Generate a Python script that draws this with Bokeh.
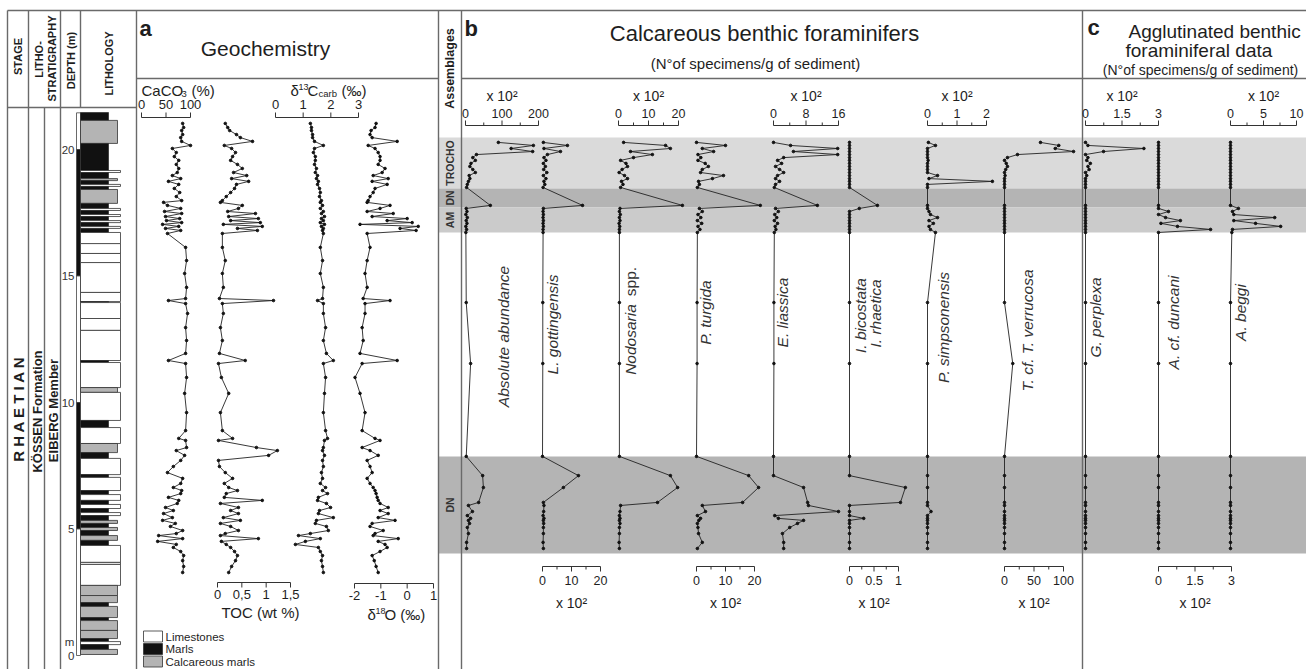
import math
from bokeh.plotting import figure
from bokeh.models import Range1d, ColumnDataSource
from bokeh.embed import file_html
from bokeh.resources import INLINE
from bokeh.core.properties import value

# ============================ DATA ============================
# --- Geochemistry (depth in m) ---
geo_depth = [21.03, 20.87, 20.75, 20.59, 20.47, 20.32, 20.16, 20.04, 19.88, 19.72,
             19.57, 19.41, 19.25, 19.09, 18.97, 18.85, 18.74, 18.62, 18.46, 18.30,
             18.14, 17.98, 17.91, 17.79, 17.67, 17.55, 17.47, 17.35, 17.27, 17.19,
             17.11, 17.04, 16.96, 16.88, 16.80, 16.68,
             16.13, 15.61, 15.10, 14.55, 14.11, 14.03, 13.91, 13.52, 12.96, 12.45,
             11.94, 11.66, 11.54, 10.99, 10.36, 9.60, 8.89, 8.58, 8.50,
             8.22, 8.10, 7.91, 7.71, 7.47, 7.23, 7.00, 6.80, 6.64, 6.52,
             6.40, 6.25, 6.13, 6.01, 5.85, 5.73, 5.61, 5.45, 5.34, 5.22,
             5.10, 4.94, 4.82, 4.74, 4.62, 4.51, 4.39, 4.27, 4.11, 3.95,
             3.75, 3.52, 3.28]
caco3 = [84, 86, 82, 84, 80, 82, 100, 63, 71, 67,
         76, 71, 76, 73, 63, 80, 55, 76, 67, 78,
         71, 82, 45, 53, 80, 47, 82, 49, 78, 51,
         82, 43, 76, 49, 80, 53,
         90, 92, 88, 92, 90, 55, 90, 94, 90, 92,
         90, 55, 90, 92, 88, 92, 90, 76, 90,
         92, 71, 88, 80, 65, 53, 84, 80, 65, 82,
         80, 55, 76, 73, 49, 65, 45, 63, 43, 69,
         59, 84, 71, 35, 84, 33, 71, 65, 80, 86,
         84, 86, 84]
toc = [0.16, 0.21, 0.25, 0.39, 0.47, 0.72, 0.14, 0.29, 0.37, 0.31,
       0.27, 0.41, 0.51, 0.33, 0.60, 0.29, 0.64, 0.39, 0.35, 0.27,
       0.18, 0.10, 0.06, 0.51, 0.43, 0.21, 0.78, 0.23, 0.84, 0.27,
       0.88, 0.12, 0.92, 0.41, 0.82, 0.10,
       0.10, 0.16, 0.10, 0.12, 0.04, 1.15, 0.10, 0.12, 0.06, 0.10,
       0.04, 0.57, 0.02, 0.08, 0.23, 0.06, 0.10, 0.31, 0.02,
       0.80, 1.23, 1.05, 0.02, 0.04, 0.16, 0.31, 0.14, 0.23, 0.41,
       0.18, 0.14, 0.92, 0.06, 0.43, 0.27, 0.43, 0.12, 0.47, 0.06,
       0.27, 0.43, 0.16, 0.06, 0.84, 0.08, 0.18, 0.27, 0.35, 0.41,
       0.37, 0.29, 0.23]
d13c = [1.26, 1.30, 1.30, 1.34, 1.34, 1.41, 1.73, 1.41, 1.37, 1.44,
        1.44, 1.41, 1.48, 1.44, 1.52, 1.48, 1.55, 1.52, 1.59, 1.62,
        1.59, 1.66, 1.62, 1.70, 1.62, 1.73, 1.66, 1.77, 1.66, 1.73,
        1.62, 1.77, 1.66, 1.73, 1.70, 1.73,
        1.62, 1.70, 1.62, 1.73, 1.70, 1.52, 1.73, 1.73, 1.81, 1.73,
        1.84, 2.09, 1.73, 1.81, 1.77, 1.73, 1.81, 1.88, 1.77,
        1.73, 1.70, 1.77, 1.70, 1.73, 1.66, 1.70, 1.62, 1.81, 1.70,
        1.88, 1.55, 1.52, 1.84, 1.99, 1.59, 1.55, 2.09, 1.48, 1.44,
        1.84, 1.91, 1.26, 0.83, 1.62, 1.08, 0.72, 1.55, 1.62, 1.70,
        1.66, 1.70, 1.73]
d18o = [-1.18, -1.22, -1.37, -1.41, -1.33, -0.38, -1.48, -1.22, -1.10, -1.03,
        -1.03, -1.10, -0.84, -0.95, -1.29, -0.72, -1.33, -0.76, -1.22, -1.29,
        -1.41, -1.48, -1.52, -0.65, -1.03, -1.52, -0.53, -1.33, 0.00, -0.76,
        0.19, -1.79, 0.42, -0.27, 0.34, -1.52,
        -1.41, -1.52, -1.60, -1.52, -1.67, -0.65, -1.60, -1.60, -1.71, -1.67,
        -1.79, -0.38, -1.71, -1.98, -1.79, -1.60, -1.71, -1.22, -1.03,
        -1.71, -1.41, -1.10, -1.52, -1.41, -1.33, -1.52, -1.41, -1.29, -1.22,
        -1.18, -1.14, -1.10, -1.03, -0.72, -1.03, -0.72, -1.10, -0.46, -1.33,
        -1.41, -0.91, -1.22, -1.29, -0.34, -1.10, -0.84, -0.76, -1.03, -1.33,
        -1.25, -1.18, -1.10]

caco3_ticks = [0, 50, 100]
caco3_tick_labels = ["0", "50", "100"]
d13c_ticks = [0, 1, 2, 3]
d13c_tick_labels = ["0", "1", "2", "3"]
toc_ticks = [0, 0.5, 1, 1.5]
toc_tick_labels = ["0", "0,5", "1", "1,5"]
d18o_ticks = [-2, -1, 0, 1]
d18o_tick_labels = ["-2", "-1", "0", "1"]

# --- Benthic foraminifera (N of specimens/g, x 10^2), depth in m ---
foram_depth = [20.28, 20.16, 20.04, 19.92, 19.80, 19.68, 19.57, 19.45, 19.33, 19.21,
               19.09, 18.97, 18.85, 18.74, 18.62, 18.50,
               17.79,
               17.67, 17.55, 17.43, 17.31, 17.19, 17.08, 16.96, 16.84, 16.72,
               13.95, 11.54,
               7.87, 7.11, 6.64, 6.05, 5.93, 5.69, 5.53, 5.42, 5.34, 5.22,
               5.06, 4.82, 4.47, 4.23]
absolute_abundance = [90, 186, 125, 184, 30, 20, 27, 15, 12, 20, 27, 10, 12, 8, 5, 3,
                      68,
                      2, 4, 1, 5, 2, 4, 1, 3, 1,
                      2, 14,
                      2, 47, 49, 36, 8, 19, 5, 14, 8, 11, 5, 8, 3, 3]
l_gottingensis = [0.3, 8.6, 0.5, 6.2, 1.7, 0.5, 1.2, 0.3, 1.0, 0.4, 1.5, 0.3, 1.2, 0.5, 0.8, 0.2,
                  13.8,
                  0.3, 0.2, 0.3, 0.2, 0.3, 0.2, 0.3, 0.2, 0.2,
                  0.1, 0.1,
                  0.0, 12.4, 7.2, 0.3, 0.5, 0.4, 0.2, 0.5, 0.3, 0.4, 0.3, 0.3, 0.2, 0.3]
nodosaria_spp = [1.7, 15.7, 17.3, 4.0, 11.3, 5.0, 0.7, 2.5, 3.0, 1.2, 0.2, 2.0, 3.0, 1.0, 1.5, 0.7,
                 21.3,
                 0.5, 0.3, 0.6, 0.3, 0.5, 0.2, 0.4, 0.3, 0.3,
                 0.3, 0.3,
                 0.3, 17.3, 19.7, 13.0, 0.7, 0.5, 0.3, 0.5, 0.3, 0.5, 0.3, 0.3, 0.2, 0.3]
p_turgida = [0.0, 10.0, 2.0, 5.9, 0.5, 1.5, 0.5, 3.0, 4.1, 2.0, 1.4, 9.3, 5.5, 0.7, 1.0, 0.3,
             22.0,
             1.0, 2.0, 0.5, 1.5, 0.3, 1.8, 0.5, 1.2, 0.3,
             0.2, 0.2,
             0.0, 18.0, 21.4, 15.9, 2.0, 3.1, 0.3, 1.4, 0.8, 0.3, 0.5, 0.7, 2.0, 0.3]
e_liassica = [0.0, 4.2, 15.8, 4.9, 15.8, 2.5, 1.0, 2.0, 0.5, 1.5, 2.5, 1.0, 0.5, 1.5, 0.5, 0.2,
              10.8,
              0.5, 1.2, 0.3, 0.8, 0.2, 1.0, 0.4, 0.6, 0.2,
              0.1, 0.1,
              0.0, 0.0, 7.4, 8.4, 8.6, 16.0, 0.3, 1.2, 7.4, 5.9, 4.0, 2.2, 2.5, 2.5]
i_bicostata_rhaetica = [0, 0, 0, 0, 0, 0, 0, 0, 0, 0, 0, 0, 0, 0, 0, 0,
                        0.57,
                        0.2, 0, 0, 0, 0, 0, 0, 0, 0,
                        0, 0,
                        0, 0, 1.14, 1.04, 0, 0, 0, 0.29, 0, 0, 0, 0, 0, 0]
p_simpsonensis = [0.03, 0.27, 0, 0, 0, 0, 0.02, 0, 0, 0, 0, 0.34, 0.05, 2.2, 0, 0,
                  0,
                  0, 0.05, 0.1, 0.34, 0.05, 0.2, 0.05, 0.1, 0.27,
                  0, 0,
                  0, 0, 0, 0, 0, 0.12, 0, 0, 0, 0, 0, 0, 0, 0]
t_verrucosa = [61, 92, 86, 117, 22, 5, 0, 3, 5, 2, 0, 1, 0, 0, 0, 0,
               0,
               0, 0, 0, 0, 0, 0, 0, 0, 0,
               0, 14,
               0, 0, 0, 0, 0, 0, 0, 0, 0, 0, 0, 0, 0, 0]
g_perplexa = [0, 0.1, 2.4, 0.74, 0, 0.1, 0.05, 0.2, 0.1, 0.15, 0, 0.05, 0, 0, 0, 0,
              0,
              0, 0, 0, 0, 0, 0, 0, 0, 0,
              0, 0,
              0, 0, 0, 0, 0, 0, 0, 0, 0, 0, 0, 0, 0, 0]
a_duncani = [0, 0, 0, 0, 0, 0, 0, 0, 0, 0, 0, 0, 0, 0, 0, 0,
             0,
             0, 0.41, 0, 0.29, 0.9, 0.1, 0.78, 2.14, 0,
             0, 0,
             0, 0, 0, 0, 0, 0, 0, 0, 0, 0, 0, 0, 0, 0]
a_beggi = [0, 0, 0, 0, 0, 0, 0, 0, 0, 0, 0, 0, 0, 0, 0, 0,
           0,
           1.2, 0.3, 0.5, 6.7, 0.5, 3.8, 7.6, 0.3, 0.2,
           0, 0,
           0, 0, 0, 0, 0, 0, 0, 0, 0, 0, 0, 0, 0, 0]

abs_ticks = [0, 50, 100, 150, 200]
abs_tick_labels = ["0", "", "100", "", "200"]
gott_ticks = [0, 5, 10, 15, 20]
gott_tick_labels = ["0", "", "10", "", "20"]
nodo_ticks = [0, 5, 10, 15, 20]
nodo_tick_labels = ["0", "", "10", "", "20"]
turg_ticks = [0, 5, 10, 15, 20]
turg_tick_labels = ["0", "", "10", "", "20"]
lias_ticks = [0, 4, 8, 12, 16]
lias_tick_labels = ["0", "", "8", "", "16"]
bico_ticks = [0, 0.25, 0.5, 0.75, 1]
bico_tick_labels = ["0", "", "0.5", "", "1"]
simp_ticks = [0, 0.5, 1, 1.5, 2]
simp_tick_labels = ["0", "", "1", "", "2"]
verr_ticks = [0, 25, 50, 75, 100]
verr_tick_labels = ["0", "", "50", "", "100"]
perp_ticks = [0, 0.75, 1.5, 2.25, 3]
perp_tick_labels = ["0", "", "1.5", "", "3"]
dunc_ticks = [0, 0.75, 1.5, 2.25, 3]
dunc_tick_labels = ["0", "", "1.5", "", "3"]
begg_ticks = [0, 2.5, 5, 7.5, 10]
begg_tick_labels = ["0", "", "5", "", "10"]

# --- Assemblage zones (m) ---
zone_name = ["TROCHO", "DN", "AM", "DN"]
zone_top = [20.47, 18.46, 17.71, 7.87]
zone_base = [18.46, 17.71, 16.72, 4.03]

# --- Lithology log: bed boundaries (m, top to base) and lithology codes ---
bed_bounds = [21.46, 21.15, 20.24, 19.17, 19.09, 18.85, 18.77, 18.62, 18.54, 18.42,
              17.87, 17.67, 17.59, 17.43, 17.35, 17.19, 17.11, 16.96, 16.88, 16.72,
              16.28, 15.89, 15.53, 14.35, 13.99, 13.95, 13.32, 12.85, 11.66, 11.58,
              10.59, 10.40, 9.29, 9.01, 8.38, 8.02, 7.79, 7.15, 7.04, 6.52,
              6.36, 6.13, 5.97, 5.81, 5.65, 5.53, 5.34, 5.22, 5.06, 4.94,
              4.74, 4.55, 4.35, 3.68, 3.60, 2.77, 2.37, 2.09, 1.94, 1.50,
              1.38, 0.99, 0.67, 0.55, 0.43, 0.24, 0.04]
bed_lith = ["M", "C", "M", "L", "M", "C", "M", "L", "M", "C",
            "M", "L", "M", "L", "M", "L", "M", "L", "M", "L",
            "L", "L", "L", "L", "M", "L", "L", "L", "M", "L",
            "C", "L", "M", "L", "C", "M", "L", "M", "L", "M",
            "L", "M", "L", "M", "L", "M", "C", "M", "C", "M",
            "C", "M", "L", "L", "L", "C", "C", "M", "C", "M",
            "C", "C", "M", "L", "M", "C"]
lith_codes = ["L", "M", "C"]
lith_names = ["Limestones", "Marls", "Calcareous marls"]

depth_ticks = [0, 5, 10, 15, 20]
depth_bar_bounds = [21.45, 20, 15, 10, 5, 0]

# ============================ LAYOUT ============================
W, H = 1306, 669
XL, XR = 0.0, 1306.0          # page-pixel frame of the drawing
YB, YT = 669.0, 0.0
Y_ZERO, PX_M = 655.0, 25.3    # depth scale of the log: 0 m at page y 655, 25.3 px per m

FONT = value("Liberation Sans")
INK = "#1e1e1e"
FRAME = "#6a6a6a"
LITH_FILL = {"L": "#ffffff", "M": "#111111", "C": "#b4b4b4"}
LITH_RIGHT = {"L": 120, "M": 108, "C": 117}
ZONE_FILL = {"TROCHO": "#dadada", "DN": "#b4b4b4", "AM": "#cbcbcb"}

p = figure(width=W, height=H, x_range=Range1d(XL, XR), y_range=Range1d(YB, YT),
           x_axis_location=None, y_axis_location=None, output_backend="svg",
           toolbar_location=None, min_border=0)
p.xgrid.visible = False
p.ygrid.visible = False
p.outline_line_color = None
p.background_fill_color = "white"
p.border_fill_color = "white"

xr = {}


def track(name, v0, x0, v1, x1):
    s = (x1 - x0) / (v1 - v0)
    xr[name] = Range1d(v0 + (XL - x0) / s, v0 + (XR - x0) / s)


# geochemistry tracks (value -> page x)
track("caco3", 0, 141, 100, 190)
track("toc", 0, 217, 1.5, 290)
track("d13c", 0, 275, 3, 358)
track("d18o", -2, 354, 1, 433)

SPECIES = [
    # key, series, ticks, tick labels, axis side, (v0, x0, v1, x1)
    ("abs", absolute_abundance, abs_ticks, abs_tick_labels, "top", (0, 465, 200, 538)),
    ("gott", l_gottingensis, gott_ticks, gott_tick_labels, "bottom", (0, 542, 20, 600)),
    ("nodo", nodosaria_spp, nodo_ticks, nodo_tick_labels, "top", (0, 618, 20, 678)),
    ("turg", p_turgida, turg_ticks, turg_tick_labels, "bottom", (0, 696, 20, 754)),
    ("lias", e_liassica, lias_ticks, lias_tick_labels, "top", (0, 773, 16, 838)),
    ("bico", i_bicostata_rhaetica, bico_ticks, bico_tick_labels, "bottom", (0, 849, 1, 898)),
    ("simp", p_simpsonensis, simp_ticks, simp_tick_labels, "top", (0, 927, 2, 986)),
    ("verr", t_verrucosa, verr_ticks, verr_tick_labels, "bottom", (0, 1004, 100, 1063)),
    ("perp", g_perplexa, perp_ticks, perp_tick_labels, "top", (0, 1085, 3, 1158)),
    ("dunc", a_duncani, dunc_ticks, dunc_tick_labels, "bottom", (0, 1158, 3, 1231)),
    ("begg", a_beggi, begg_ticks, begg_tick_labels, "top", (0, 1230, 10, 1296)),
]
for key, _s, _t, _l, _side, a in SPECIES:
    track(key, *a)

p.extra_x_ranges = xr
p.extra_y_ranges = {"depth": Range1d((Y_ZERO - YB) / PX_M, (Y_ZERO - YT) / PX_M)}


def T(x, y, s, size, align="center", base="middle", angle=0.0, style="normal",
      color=INK, xn=None, yn=None):
    kw = {}
    if xn:
        kw["x_range_name"] = xn
    if yn:
        kw["y_range_name"] = yn
    p.text(x=[x], y=[y], text=[s], text_font=FONT, text_font_size=f"{size}px",
           text_align=align, text_baseline=base, angle=angle,
           text_font_style=style, text_color=color, **kw)


def seg(x0, y0, x1, y1, color=FRAME, width=1.4):
    p.segment(x0=x0, y0=y0, x1=x1, y1=y1, line_color=color, line_width=width)


# ---------- assemblage zone bands ----------
zsrc = ColumnDataSource(dict(top=zone_top, bottom=zone_base,
                             fill=[ZONE_FILL[z] for z in zone_name]))
p.quad(left=438, right=XR, top="top", bottom="bottom", source=zsrc,
       fill_color="fill", line_color=None, y_range_name="depth")
zmid = [(a + b) / 2 for a, b in zip(zone_top, zone_base)]
p.text(x=[449.5] * len(zone_name), y=zmid, text=zone_name, y_range_name="depth",
       angle=math.pi / 2, text_align="center", text_baseline="middle",
       text_font=FONT, text_font_size="10.5px", text_font_style="bold", text_color="#333")

# ---------- frame ----------
seg([7, 7, 136, 461], [10, 107, 78, 78], [1306, 136, 438, 1306], [10, 107, 78, 78])
seg([7, 28, 60, 80, 44, 136, 438, 461, 1082],
    [10, 10, 10, 10, 107, 10, 10, 10, 10],
    [7, 28, 60, 80, 44, 136, 438, 461, 1082],
    [669, 669, 669, 107, 669, 669, 669, 669, 669])

# ---------- left header columns ----------
V = math.pi / 2
T(17.5, 56, "STAGE", 11, angle=V, style="bold")
T(38, 59, "LITHO-", 11, angle=V, style="bold")
T(51, 58, "STRATIGRAPHY", 11, angle=V, style="bold")
T(70, 60, "DEPTH (m)", 11, angle=V, style="bold")
T(108, 63, "LITHOLOGY", 11, angle=V, style="bold")
T(17.5, 408, "R H A E T I A N", 15, angle=V, style="bold")
T(36.5, 411, "KÖSSEN Formation", 13, angle=V, style="bold")
T(52.5, 410, "EIBERG Member", 13, angle=V, style="bold")

# ---------- depth bar + labels ----------
dsrc = ColumnDataSource(dict(top=depth_bar_bounds[:-1], bottom=depth_bar_bounds[1:],
                             fill=["white", "#111111", "white", "#111111", "white"]))
p.quad(left=76, right=80, top="top", bottom="bottom", source=dsrc, fill_color="fill",
       line_color="#444", line_width=0.8, y_range_name="depth")
p.text(x=[74] * len(depth_ticks), y=depth_ticks, text=[str(t) for t in depth_ticks],
       y_range_name="depth", text_align="right", text_baseline="middle",
       text_font=FONT, text_font_size="11.5px", text_color="#333")
T(69, 641, "m", 11.5, color="#333")

# ---------- lithology log ----------
lsrc = ColumnDataSource(dict(top=bed_bounds[:-1], bottom=bed_bounds[1:],
                             right=[LITH_RIGHT[c] for c in bed_lith],
                             fill=[LITH_FILL[c] for c in bed_lith]))
p.quad(left=80, right="right", top="top", bottom="bottom", source=lsrc,
       fill_color="fill", line_color="#333", line_width=0.8, y_range_name="depth")

# legend
for i, (code, name) in enumerate(zip(lith_codes, lith_names)):
    yc = 636 + 12.5 * i
    p.quad(left=[143], right=[162], top=[yc - 5.5], bottom=[yc + 5.5],
           fill_color=LITH_FILL[code], line_color="#333", line_width=0.8)
    T(165, yc, name, 11.5, align="left")

# ---------- panel titles ----------
T(139, 28, "a", 22, align="left", style="bold")
T(265, 48, "Geochemistry", 21)
T(464, 28, "b", 22, align="left", style="bold")
T(764, 33, "Calcareous benthic foraminifers", 22)
T(755, 63, "(N°of specimens/g of sediment)", 15)
T(1087, 27, "c", 22, align="left", style="bold")
T(1128, 31, "Agglutinated benthic", 19, align="left")
T(1125, 50, "foraminiferal data", 19, align="left")
T(1200, 69, "(N°of specimens/g of sediment)", 14)
T(449.5, 68, "Assemblages", 12.5, angle=V, style="bold")


# ---------- axes ----------
def draw_axis(name, ticks, labels, y_line, side, gap, size=12.5):
    n = len(ticks)
    p.segment(x0=[ticks[0]], x1=[ticks[-1]], y0=[y_line], y1=[y_line],
              x_range_name=name, line_color="#333", line_width=1)
    d = -1 if side == "top" else 1
    tl = [5 if lab != "" else 3 for lab in labels]
    p.segment(x0=ticks, x1=ticks, y0=[y_line] * n, y1=[y_line + d * t for t in tl],
              x_range_name=name, line_color="#333", line_width=1)
    p.text(x=ticks, y=[y_line + d * gap] * n, text=labels, x_range_name=name,
           text_align="center", text_baseline="middle", text_font=FONT,
           text_font_size=f"{size}px", text_color=INK)


draw_axis("caco3", caco3_ticks, caco3_tick_labels, 117, "top", 13, 13)
draw_axis("d13c", d13c_ticks, d13c_tick_labels, 117, "top", 13, 13)
draw_axis("toc", toc_ticks, toc_tick_labels, 582, "bottom", 12, 13)
draw_axis("d18o", d18o_ticks, d18o_tick_labels, 583, "bottom", 12, 13)

# axis titles (geochemistry)
T(141, 90, "CaCO", 15, align="left")
T(181, 93, "3", 9.5, align="left")
T(191, 90, "(%)", 15, align="left")
T(290, 90, "δ", 15, align="left")
T(298, 86, "13", 9, align="left")
T(307, 90, "C", 15, align="left")
T(318, 93, "carb", 9.5, align="left")
T(341, 90, "(‰)", 15, align="left")
T(260, 612, "TOC (wt %)", 15)
T(367, 614, "δ", 15, align="left")
T(375, 610, "18", 9, align="left")
T(384, 614, "O (‰)", 15, align="left")

for key, series, ticks, labels, side, a in SPECIES:
    if side == "top":
        draw_axis(key, ticks, labels, 125, "top", 12, 12.5)
        ylab = 95
    else:
        draw_axis(key, ticks, labels, 566, "bottom", 14, 12.5)
        ylab = 602
    T((ticks[0] + ticks[-1]) / 2, ylab, "x 10²", 14, xn=key)


# ---------- curves ----------
def curve(name, vals, depths, dot=2.6):
    src = ColumnDataSource(dict(x=vals, y=depths))
    p.line("x", "y", source=src, x_range_name=name, y_range_name="depth",
           line_color="#222", line_width=0.9)
    p.scatter("x", "y", source=src, x_range_name=name, y_range_name="depth",
              marker="circle", size=dot, fill_color="#111", line_color="#111")


curve("caco3", caco3, geo_depth)
curve("toc", toc, geo_depth)
curve("d13c", d13c, geo_depth)
curve("d18o", d18o, geo_depth)
for key, series, ticks, labels, side, a in SPECIES:
    curve(key, series, foram_depth)

# ---------- species labels (rotated) ----------
species_labels = [
    (503, 336, "Absolute abundance", "italic"),
    (552, 324, "L. gottingensis", "italic"),
    (630, 339, "Nodosaria", "italic"),
    (630, 281, "spp.", "normal"),
    (705, 312, "P. turgida", "italic"),
    (782, 312, "E. liassica", "italic"),
    (860, 315, "I. bicostata", "italic"),
    (875, 313, "I. rhaetica", "italic"),
    (943, 327, "P. simpsonensis", "italic"),
    (1027, 330, "T. cf. T. verrucosa", "italic"),
    (1095, 317, "G. perplexa", "italic"),
    (1173, 322, "A. cf. duncani", "italic"),
    (1240, 312, "A. beggi", "italic"),
]
for x, y, s, st in species_labels:
    T(x, y, s, 15.5, angle=V, style=st, color="#333")

open("out.html", "w").write(file_html(p, INLINE))
